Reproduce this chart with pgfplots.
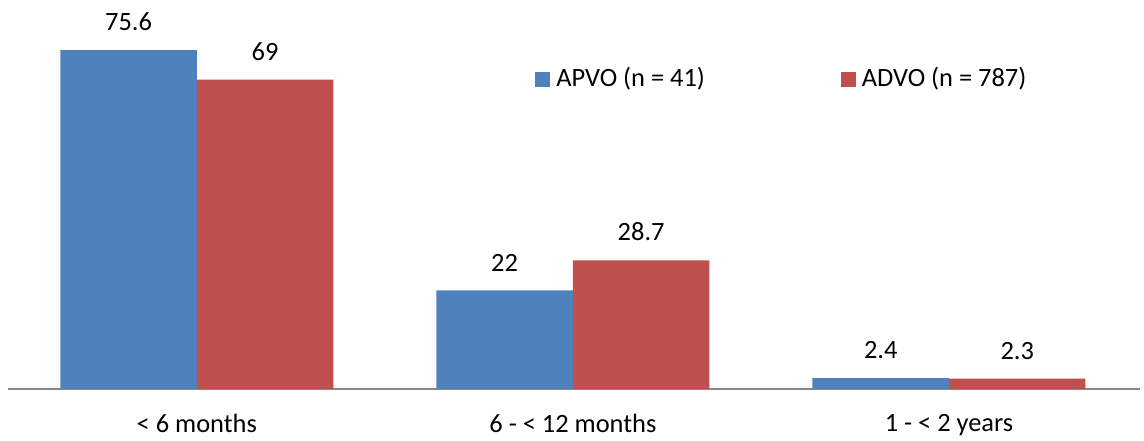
\documentclass[border=0pt]{standalone}
\usepackage{pgfplots}
\pgfplotsset{compat=1.18}
\usepackage{fontspec}
\setmainfont{Carlito}
\definecolor{cblue}{HTML}{4F81BD}
\definecolor{cred}{HTML}{C0504D}
\definecolor{axgray}{HTML}{878787}
\begin{document}
\fontsize{13.2}{15}\selectfont
\begin{tikzpicture}
\begin{axis}[
  scale only axis, width=566pt, height=179.35pt,
  ymin=0, ymax=80, xmin=-0.502, xmax=2.508,
  ybar=0pt, bar width=68.25pt,
  axis x line*=bottom, axis y line=none,
  x axis line style={draw=axgray, line width=0.8pt, -},
  xtick={0,1,2},
  xticklabels={< 6 months, 6 - < 12 months, 1 - < 2 years},
  major tick length=0pt,
  xticklabel style={yshift=-8pt},
  /pgf/number format/assume math mode=true,
  nodes near coords,
  every node near coord/.append style={yshift=5pt, font=\fontsize{13.2}{15}\selectfont},
  clip=false,
  legend columns=2,
  legend style={at={(0.4655,0.864)}, anchor=west, draw=none, fill=none, inner sep=0pt,
    nodes={inner sep=0pt, anchor=west},
    /tikz/every odd column/.append style={column sep=3pt},
    /tikz/every even column/.append style={column sep=68pt}},
  legend image code/.code={\fill[#1,draw=none] (0pt,-3.75pt) rectangle (7.5pt,3.75pt);},
]
\addplot[fill=cblue, draw=none] coordinates {(0,75.6) (1,22) (2,2.4)};
\addplot[fill=cred, draw=none] coordinates {(0,69) (1,28.7) (2,2.3)};
\legend{APVO (n = 41), ADVO (n = 787)}
\coordinate (bl) at (rel axis cs:0,0);
\coordinate (tr) at (rel axis cs:1,1);
\end{axis}
\pgfresetboundingbox
\path ([shift={(-4pt,-26pt)}]bl) rectangle ([shift={(2pt,15.15pt)}]tr);
\end{tikzpicture}
\end{document}
